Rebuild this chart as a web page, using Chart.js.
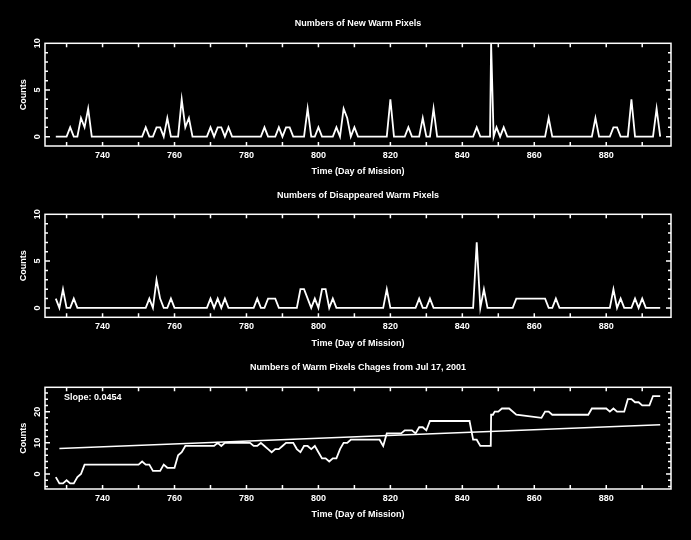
<!DOCTYPE html>
<html>
<head>
<meta charset="utf-8">
<script src="https://cdn.jsdelivr.net/npm/chart.js@4.4.0/dist/chart.umd.min.js"></script>
<style>
html,body{margin:0;padding:0;background:#000;}
#wrap{position:relative;width:691px;height:540px;background:#000;overflow:hidden;}
canvas{position:absolute;left:0;}
</style>
</head>
<body>
<div id="wrap">
<canvas id="c1" style="top:0px;width:691px;height:180px" width="691" height="180"></canvas>
<canvas id="c2" style="top:180px;width:691px;height:175px" width="691" height="175"></canvas>
<canvas id="c3" style="top:355px;width:691px;height:185px" width="691" height="185"></canvas>
</div>
<script>
// ---- data (vertices of each polyline, day of mission -> count) ----
const newDays   = [727,730,731,732,733,734,735,736,737,751,752,753,754,755,756,757,758,759,761,762,763,764,765,769,770,771,772,773,774,775,776,784,785,786,788,789,790,791,792,793,796,797,798,799,800,801,804,805,806,807,808,809,810,811,819,820,821,824,825,826,828,829,830,831,832,833,843,844,845,847.7,848,848.7,849.5,850.5,851.5,852.5,863,864,865,876,877,878,881,882,883,884,886,887,888,893,894,895];
const newCounts = [0,0,1,0,0,2,1,3,0,0,1,0,0,1,1,0,2,0,0,4,1,2,0,0,1,0,1,1,0,1,0,0,1,0,0,1,0,1,1,0,0,3,0,0,1,0,0,1,0,3,2,0,1,0,0,4,0,0,1,0,0,2,0,0,3,0,0,1,0,0,10,0,1,0,1,0,0,2,0,0,2,0,0,1,1,0,0,4,0,0,3,0];

const goneDays   = [727,728,729,730,731,732,733,752,753,754,755,756,757,758,759,760,769,770,771,772,773,774,775,782,783,784,785,786,788,789,794,795,796,798,799,800,801,802,803,804,805,818,819,820,827,828,829,830,831,832,843,844,845,846,847,854,855,863,864,865,866,867,881,882,883,884,885,887,888,889,890,891,895];
const goneCounts = [1,0,2,0,0,1,0,0,1,0,3,1,0,0,1,0,0,1,0,1,0,1,0,0,1,0,0,1,1,0,0,2,2,0,1,0,2,2,0,1,0,0,2,0,0,1,0,0,1,0,0,7,0,2,0,0,1,1,0,0,1,0,0,2,0,1,0,0,1,0,1,0,0];

const cumDays   = [727,728,729,730,731,732,733,734,735,750,751,752,753,754,756,757,758,760,761,762,763,771,772,773,774,781,782,783,784,785,786,787,788,789,790,791,793,794,795,796,797,798,799,800,801,802,803,804,805,806,807,808,809,817,818,819,823,824,826,827,828,829,830,831,842,843,844,845,847.9,848,848.5,849,850,851,853,855,862,863,864,865,875,876,880,881,882,883,885,886,887,888,889,890,892,893,895];
const cumCounts = [-1,-3,-3,-2,-3,-3,-1,0,3,3,4,3,3,1,1,3,2,2,6,7,9,9,10,9,10,10,9,9,10,9,8,7,8,8,9,10,10,8,7,9,9,8,9,7,5,5,4,5,5,8,10,10,11,11,9,13,13,14,14,13,15,15,14,17,17,11,11,9,9,19,19,20,20,21,21,19,18,20,20,19,19,21,21,20,21,20,20,24,24,23,23,22,22,25,25];

const fitDays   = [728, 895];
const fitCounts = [8.2, 15.8];

const xTickDays   = [730,740,750,760,770,780,790,800,810,820,830,840,850,860,870,880,890];
const xLabelDays  = [740,760,780,800,820,840,860,880];
const yLabelsSmall = [0,5,10];
const yLabelsCum   = [0,10,20];

const titles = ['Numbers of New Warm Pixels','Numbers of Disappeared Warm Pixels','Numbers of Warm Pixels Chages from Jul 17, 2001'];
const xTitle = 'Time (Day of Mission)';
const yTitle = 'Counts';
const slopeText = 'Slope: 0.0454';

// ---- drawing ----
const FONT = {family:'"Liberation Sans", Arial, Helvetica, sans-serif', size:9, weight:'bold'};
const FONT_CSS = 'bold 9px "Liberation Sans", Arial, Helvetica, sans-serif';

function pts(xs, ys){ return xs.map((d,i)=>({x:d, y:ys[i]})); }

const framePlugin = {
  id:'frame',
  afterDatasetsDraw(chart, args, o){
    const {ctx, chartArea:a, scales:{x, y}} = chart;
    ctx.save();
    ctx.strokeStyle = '#fff';
    ctx.lineWidth = 1.5;
    ctx.strokeRect(a.left, a.top, a.right - a.left, a.bottom - a.top);
    ctx.beginPath();
    xTickDays.forEach(d=>{
      const px = x.getPixelForValue(d);
      ctx.moveTo(px, a.bottom); ctx.lineTo(px, a.bottom - 4);
      ctx.moveTo(px, a.top); ctx.lineTo(px, a.top + 4);
    });
    const start = Math.ceil(y.min / o.minor) * o.minor;
    for (let v = start; v <= y.max + 1e-9; v += o.minor){
      const py = y.getPixelForValue(v);
      if (Math.abs(py - a.top) < 1 || Math.abs(py - a.bottom) < 1) continue;
      const len = (Math.abs(v % o.major) < 1e-9) ? 5 : 3;
      ctx.moveTo(a.left, py); ctx.lineTo(a.left + len, py);
      ctx.moveTo(a.right, py); ctx.lineTo(a.right - len, py);
    }
    ctx.stroke();
    if (o.slope){
      ctx.fillStyle = '#fff';
      ctx.font = FONT_CSS;
      ctx.textAlign = 'left';
      ctx.textBaseline = 'middle';
      ctx.fillText(o.slope, a.left + 19, a.top + 10);
    }
    ctx.restore();
  }
};

function makePanel(id, H, cfg){
  const datasets = cfg.series.map(s=>({
    data: pts(s.xs, s.ys), borderColor:'#fff', borderWidth:s.w, pointRadius:0,
    tension:0, fill:false, spanGaps:true
  }));
  new Chart(document.getElementById(id), {
    type:'line',
    data:{datasets},
    options:{
      responsive:false, animation:false, devicePixelRatio:1,
      layout:{padding:{left:0, right:20, top:0, bottom:0}},
      plugins:{
        legend:{display:false}, tooltip:{enabled:false},
        title:{display:true, text:cfg.title, color:'#fff', font:FONT, fullSize:false,
               padding:{top:cfg.tTop, bottom:cfg.tBot}},
        frame:{minor:cfg.minor, major:cfg.major, slope:cfg.slope}
      },
      scales:{
        x:{
          type:'linear', min:724, max:898,
          afterBuildTicks:s=>{ s.ticks = xLabelDays.map(v=>({value:v})); },
          afterFit:s=>{ s.height = H - cfg.areaBottom; },
          grid:{display:false, drawTicks:false}, border:{display:false},
          ticks:{color:'#fff', font:FONT, padding:3.8, maxRotation:0, autoSkip:false,
                 callback:v=>String(v)},
          title:{display:true, text:xTitle, color:'#fff', font:FONT, padding:{top:0, bottom:cfg.xtBot}}
        },
        y:{
          type:'linear', min:cfg.ymin, max:cfg.ymax,
          afterBuildTicks:s=>{ s.ticks = cfg.ylabels.map(v=>({value:v})); },
          afterFit:s=>{ s.width = 45; },
          grid:{display:false, drawTicks:false}, border:{display:false},
          ticks:{color:'#fff', font:FONT, padding:2, minRotation:90, maxRotation:90,
                 crossAlign:'center', autoSkip:false, callback:v=>String(v)},
          title:{display:true, text:yTitle, color:'#fff', font:FONT, padding:{top:18.6, bottom:0}}
        }
      }
    },
    plugins:[framePlugin]
  });
}

makePanel('c1', 180, {title:titles[0], tTop:18.6, tBot:13.9, areaBottom:146, xtBot:2.9,
  ymin:-1, ymax:10, ylabels:yLabelsSmall, minor:1, major:5,
  series:[{xs:newDays, ys:newCounts, w:1.8}]});
makePanel('c2', 175, {title:titles[1], tTop:10.3, tBot:13.2, areaBottom:137.3, xtBot:6.3,
  ymin:-1, ymax:10, ylabels:yLabelsSmall, minor:1, major:5,
  series:[{xs:goneDays, ys:goneCounts, w:1.8}]});
makePanel('c3', 185, {title:titles[2], tTop:6.9, tBot:14.6, areaBottom:134, xtBot:19.6,
  ymin:-4.8, ymax:27.8, ylabels:yLabelsCum, minor:2, major:10, slope:slopeText,
  series:[{xs:cumDays, ys:cumCounts, w:1.8},{xs:fitDays, ys:fitCounts, w:1.4}]});
</script>
</body>
</html>
